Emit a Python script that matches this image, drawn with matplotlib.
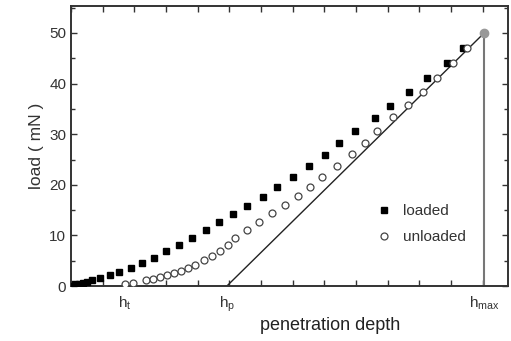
import matplotlib
matplotlib.use("Agg")
import matplotlib.pyplot as plt
from matplotlib.ticker import MultipleLocator

plt.rcParams['font.family'] = ['Liberation Sans', 'DejaVu Sans']

# data (arbitrary depth units, load in mN)
loaded_x = [0.03, 0.13, 0.25, 0.38, 0.50, 0.66, 0.91, 1.23, 1.51, 1.89, 2.24, 2.62, 3.00, 3.41,
            3.82, 4.26, 4.67, 5.11, 5.55, 6.06, 6.50, 7.00, 7.51, 8.01, 8.45, 8.96, 9.59, 10.09,
            10.66, 11.23, 11.86, 12.37]
loaded_y = [0.0, 0.4, 0.4, 0.6, 0.8, 1.2, 1.6, 2.2, 2.8, 3.6, 4.5, 5.5, 6.9, 8.1,
            9.5, 11.1, 12.6, 14.2, 15.8, 17.6, 19.6, 21.5, 23.7, 25.9, 28.3, 30.6, 33.2, 35.6,
            38.3, 41.1, 44.1, 47.0]
unloaded_x = [1.70, 1.96, 2.37, 2.59, 2.81, 3.03, 3.25, 3.47, 3.69, 3.91, 4.20, 4.45, 4.70, 4.95,
              5.17, 5.55, 5.93, 6.34, 6.75, 7.16, 7.54, 7.92, 8.39, 8.86, 9.27, 9.68, 10.16,
              10.63, 11.13, 11.55, 12.05, 12.52]
unloaded_y = [0.4, 0.6, 1.2, 1.4, 1.8, 2.2, 2.6, 3.0, 3.6, 4.2, 5.1, 5.9, 6.9, 8.1,
              9.5, 11.1, 12.6, 14.4, 16.0, 17.8, 19.6, 21.5, 23.7, 26.1, 28.3, 30.6, 33.4,
              35.8, 38.3, 41.1, 44.1, 47.0]
h_t = 1.70
h_p = 4.92
h_max = 13.05
p_max = 50.0
depth_labels = ['h$_\\mathregular{t}$', 'h$_\\mathregular{p}$', 'h$_\\mathregular{max}$']

fig = plt.figure(figsize=(5.11, 3.41), dpi=100)
ax = fig.add_axes([0.139, 0.161, 0.855, 0.821])

ax.plot([h_p, h_max], [0, p_max], color='#222222', lw=1.0, zorder=2)
ax.plot([h_max, h_max], [0, p_max], color='#777777', lw=1.5, zorder=2)
ax.plot(loaded_x, loaded_y, ls='none', marker='s', ms=5, mfc='black', mec='black',
        label='loaded', zorder=3)
ax.plot(unloaded_x, unloaded_y, ls='none', marker='o', ms=5, mfc='white', mec='#444444',
        mew=0.9, label='unloaded', zorder=3)
ax.plot([h_max], [p_max], ls='none', marker='o', ms=6, mfc='#999999', mec='#999999', zorder=4)

ax.set_xlim(0, 13.8)
ax.set_ylim(0, 55.3)
ax.xaxis.set_major_locator(MultipleLocator(1))
ax.yaxis.set_major_locator(MultipleLocator(10))
ax.yaxis.set_minor_locator(MultipleLocator(5))
ax.tick_params(axis='both', which='both', direction='in', top=True, right=True,
               colors='#333333', labelcolor='#333333', width=1.0)
ax.tick_params(axis='both', which='major', length=4, labelsize=11)
ax.tick_params(axis='both', which='minor', length=3)
ax.tick_params(axis='x', labelbottom=False)
for s in ax.spines.values():
    s.set_color('#333333')
    s.set_linewidth(1.4)

for xv, lab in zip([h_t, h_p, h_max], depth_labels):
    ax.text(xv, -1.6, lab, ha='center', va='top', fontsize=11, color='#333333')

ax.set_ylabel('load ( mN )', fontsize=12.5, color='#333333', labelpad=4)
fig.text(330 / 511, 1 - 325 / 341, 'penetration depth', ha='center', va='center',
         fontsize=13, color='#222222')

ax.legend(loc='lower left', bbox_to_anchor=(0.665, 0.10), frameon=False, fontsize=11,
          handletextpad=0.6, labelspacing=0.8, handlelength=1.2, labelcolor='#333333')

fig.savefig('out.png', dpi=100)
